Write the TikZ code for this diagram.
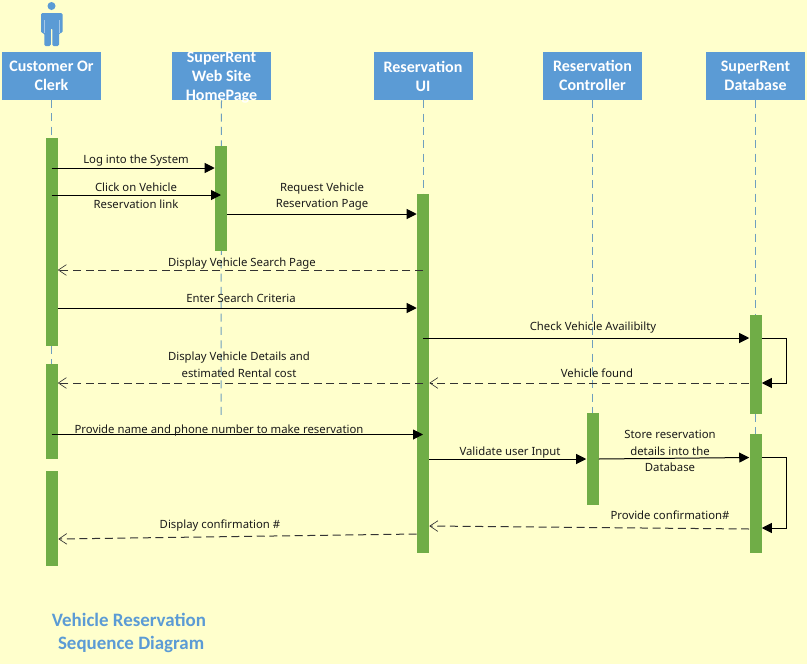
\documentclass[tikz,border=0pt]{standalone}
\usepackage{fontspec}
\setmainfont{Noto Sans}
\newfontfamily\headfont{Carlito}
\usetikzlibrary{arrows.meta}
\definecolor{bgc}{HTML}{FFFFCC}
\definecolor{blu}{HTML}{5B9BD5}
\definecolor{grn}{HTML}{70AD47}
\definecolor{lif}{HTML}{6F9FBF}
\definecolor{txt}{HTML}{1A1A1A}
\tikzset{
  head/.style={fill=blu,draw=none,minimum width=74.25pt,minimum height=36pt,inner sep=0pt},
  headtxt/.style={text=white,font=\headfont\bfseries\fontsize{12}{14.25}\selectfont,align=center,inner sep=0pt},
  bar/.style={fill=grn,draw=none,minimum width=9pt,inner sep=0pt},
  life/.style={draw=lif,line width=0.75pt,dash pattern=on 6pt off 4pt},
  call/.style={draw=black,line width=0.75pt,-{Triangle[length=7.5pt,width=7.5pt]}},
  back/.style={draw=black!80,line width=0.75pt,dash pattern=on 6pt off 3.5pt,-{Straight Barb[length=6pt,width=8pt,line width=0.5pt]}},
  msg/.style={text=txt,font=\fontsize{8.5}{12.5}\selectfont,align=center,inner sep=0pt},
}
\begin{document}
\begin{tikzpicture}[x=0.75pt,y=-0.75pt]
\useasboundingbox[fill=bgc] (0,0) rectangle (807,664);
% heads
\node[head] (h1) at (51.5,76) {};
\node[head] (h2) at (221.5,76) {};
\node[head] (h3) at (423,76) {};
\node[head] (h4) at (592.5,76) {};
\node[head] (h5) at (755.5,76) {};
\node[headtxt] (t1) at (51.5,76) {Customer Or\\Clerk};
\node[headtxt] (t2) at (221.5,77.5) {SuperRent\\Web Site\\HomePage};
\node[headtxt] (t3) at (423,76) {Reservation\\UI};
\node[headtxt] (t4) at (592.5,75.5) {Reservation\\Controller};
\node[headtxt] (t5) at (755.5,76) {SuperRent\\Database};
% actor
\fill[blu] (51.5,6) circle[radius=4];
\fill[blu,rounded corners=1pt] (41,13) -- (62.5,13) -- (62.5,33) -- (59,33) -- (59,46) -- (52.3,46) -- (52.3,28) -- (50.8,28) -- (50.8,46) -- (44.3,46) -- (44.3,33) -- (41,33) -- cycle;
\draw[blu!55!white,line width=0.4pt] (44.5,20) -- (44.5,33) (59,20) -- (59,33);
% bars
\coordinate (e2) at (221,420);
\coordinate (e3) at (423,194);
\draw[life] (h1) ++(0,24) -- (51.5,138);
\draw[life] (51.5,346) -- (51.5,364);
\draw[life] (h2.south) -- (e2);
\draw[life] (h3.south) -- (e3);
\draw[life] (h4.south) -- (592.5,413);
\draw[life] (h5.south) -- (755.5,315);
\draw[life] (755.5,414) -- (755.5,434);
\node[bar,minimum height=156pt] (c1) at (51.5,242) {};
\node[bar,minimum height=71.25pt] (c2) at (51.5,411.5) {};
\node[bar,minimum height=71.25pt] (c3) at (52,518.5) {};
\node[bar,minimum height=78.75pt] (w) at (221,198.5) {};
\node[bar,minimum height=269.25pt] (u) at (423,373.5) {};
\node[bar,minimum height=69pt] (k) at (592.5,459) {};
\node[bar,minimum height=74.25pt] (d1) at (755.5,364.5) {};
\node[bar,minimum height=89.25pt] (d2) at (755.5,493.5) {};
% rows
\foreach \n/\y in {r1/168,r2/195,r3/214,r4/270,r5/308,r6/338,r7/383,r8/434.5,r9/459,r10/457.5,r11/529,r12/526,r13/534,r14/539}
  \coordinate (\n) at (0,\y);
\coordinate (s1) at (786,338);
\coordinate (s2) at (786,383);
\coordinate (s3) at (786,457.5);
\coordinate (s4) at (786,528);
% connectors
\draw[call] (c1.center |- r1) -- (w.west |- r1);
\draw[call] (c1.center |- r2) -- (w.center |- r2);
\draw[call] (w.east |- r3) -- (u.west |- r3);
\draw[back] (u.center |- r4) -- (c1.east |- r4);
\draw[call] (c1.east |- r5) -- (u.west |- r5);
\draw[call] (u.center |- r6) -- (d1.west |- r6);
\draw[call] (d1.east |- r6) -- (s1) -- (s2) -- (d1.east |- r7);
\draw[back] (d1.west |- r7) -- (u.east |- r7);
\draw[back] (u.center |- r7) -- (c2.east |- r7);
\draw[call] (c2.center |- r8) -- (u.center |- r8);
\draw[call] (u.east |- r9) -- (k.west |- r9);
\draw[call] (k.east |- r9) -- (d2.west |- r10);
\draw[call] (d2.east |- r10) -- (s3) -- (s4) -- (d2.east |- s4);
\draw[back] (d2.west |- r11) -- (u.east |- r12);
\draw[back] (u.west |- r13) -- (c3.east |- r14);
% labels
\node[msg] (m1) at (136,161) {Log into the System};
\node[msg] (m2) at (136,196) {Click on Vehicle\\Reservation link};
\node[msg] (m3) at (322,196.5) {Request Vehicle\\Reservation Page};
\node[msg] (m4) at (242,264) {Display Vehicle Search Page};
\node[msg] (m5) at (241,298) {Enter Search Criteria};
\node[msg] (m6) at (593,328) {Check Vehicle Availibilty};
\node[msg] (m7) at (239,365) {Display Vehicle Details and\\estimated Rental cost};
\node[msg] (m8) at (597,373) {Vehicle found};
\node[msg] (m9) at (219,431) {Provide name and phone number to make reservation};
\node[msg] (m10) at (510,453) {Validate user Input};
\node[msg] (m11) at (670,451) {Store reservation\\details into the\\Database};
\node[msg] (m12) at (670,515) {Provide confirmation\#};
\node[msg] (m13) at (220,526) {Display confirmation \#};
\node[text=blu,font=\headfont\bfseries\fontsize{14.2}{17.25}\selectfont,align=center,inner sep=0pt] (title) at (129,633) {Vehicle Reservation\\\ Sequence Diagram};
\end{tikzpicture}
\end{document}
